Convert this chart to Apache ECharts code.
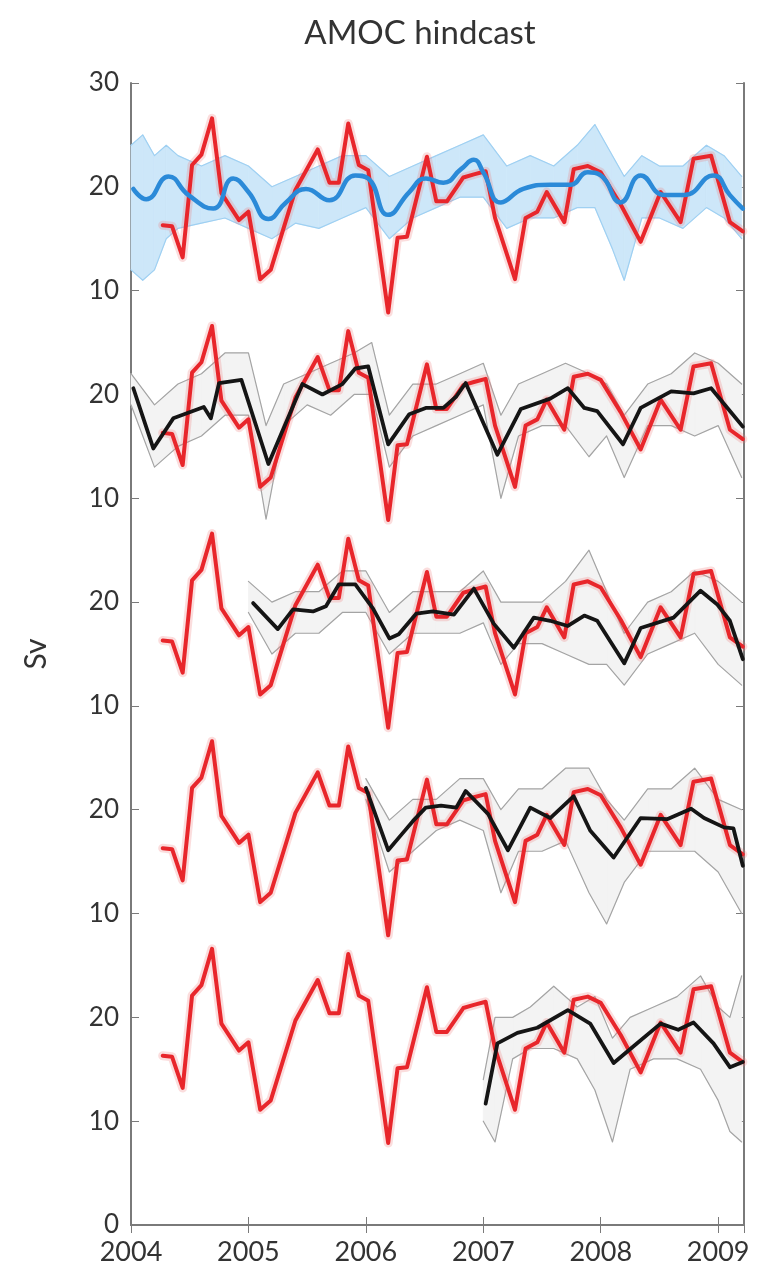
<!DOCTYPE html>
<html>
<head>
<meta charset="utf-8">
<title>AMOC hindcast</title>
<script src="https://cdn.jsdelivr.net/npm/echarts@6/dist/echarts.min.js"></script>
<style>
    html, body { margin: 0; padding: 0; background: #fff; }
    #chart { width: 757px; height: 1278px; }
</style>
</head>
<body>
<div id="chart"></div>
<script>
    // panel offsets (Sv), top panel first
    var offsets = [80, 60, 40, 20, 0];
    var yTickLabels = ['0', '10', '20', '10', '20', '10', '20', '10', '20', '10', '20', '30'];
    var yearLabels = [2004, 2005, 2006, 2007, 2008, 2009];

    // observed (red), vertices in decimal years
    var obsTime = [2004.27, 2004.35, 2004.44, 2004.52, 2004.60, 2004.69, 2004.77, 2004.92, 2005.00, 2005.10,
        2005.19, 2005.40, 2005.59, 2005.69, 2005.77, 2005.85, 2005.94, 2006.02, 2006.19, 2006.27,
        2006.35, 2006.52, 2006.60, 2006.69, 2006.83, 2006.92, 2007.02, 2007.10, 2007.27, 2007.36,
        2007.46, 2007.54, 2007.69, 2007.77, 2007.89, 2008.00, 2008.17, 2008.34, 2008.51, 2008.68,
        2008.79, 2008.94, 2009.02, 2009.10, 2009.21];
    var obsValue = [16.3, 16.2, 13.2, 22.1, 23.1, 26.6, 19.4, 16.8, 17.6, 11.1,
        12.0, 19.7, 23.6, 20.4, 20.4, 26.1, 22.1, 21.6, 7.9, 15.1,
        15.2, 22.9, 18.6, 18.6, 20.9, 21.2, 21.5, 17.0, 11.1, 17.0,
        17.6, 19.5, 16.6, 21.7, 22.0, 21.4, 18.3, 14.7, 19.5, 16.6,
        22.7, 23.0, 19.8, 16.6, 15.7];

    // model run (blue, top panel)
    var modelTime = [2004.02, 2004.13, 2004.32, 2004.49, 2004.70, 2004.87, 2005.00, 2005.17, 2005.32, 2005.49,
        2005.69, 2005.91, 2006.02, 2006.19, 2006.37, 2006.51, 2006.66, 2006.81, 2006.92, 2007.00,
        2007.15, 2007.34, 2007.57, 2007.74, 2007.89, 2008.00, 2008.17, 2008.34, 2008.54, 2008.71,
        2008.96, 2009.10, 2009.21];
    var modelValue = [19.8, 18.8, 21.0, 19.2, 17.9, 20.8, 19.5, 16.9, 18.5, 19.8,
        18.7, 21.1, 20.8, 17.3, 19.5, 20.8, 20.4, 21.7, 22.6, 21.4,
        18.5, 19.8, 20.2, 20.2, 21.4, 21.1, 18.5, 21.1, 19.2, 19.2,
        21.1, 19.2, 17.9];
    var modelSpreadTime = [2004.0, 2004.1, 2004.2, 2004.3, 2004.4, 2004.6, 2004.8, 2005.0, 2005.2, 2005.4,
        2005.6, 2005.8, 2006.0, 2006.2, 2006.4, 2006.6, 2006.8, 2007.0, 2007.2, 2007.4,
        2007.6, 2007.8, 2007.95, 2008.1, 2008.2, 2008.35, 2008.5, 2008.7, 2008.9, 2009.05, 2009.2];
    var modelSpreadHi = [24, 25, 23, 24, 23, 22, 23, 22, 20, 21,
        22, 23, 23, 21, 22, 23, 24, 25, 22, 23,
        22, 24, 26, 23, 21, 23, 22, 22, 24, 23, 21];
    var modelSpreadLo = [12, 11, 12, 15, 16, 16.5, 17, 16, 15, 16.5,
        16, 17, 18, 15, 17, 18, 19, 19, 16, 17,
        17, 18, 18, 14, 11, 17, 17, 16, 18, 17, 15];

    // hindcasts started 2004, 2005, 2006, 2007 (black = ensemble mean)
    var hc2004Time = [2004.02, 2004.19, 2004.36, 2004.62, 2004.68, 2004.75, 2004.94, 2005.17, 2005.46, 2005.63,
        2005.80, 2005.91, 2006.02, 2006.19, 2006.37, 2006.51, 2006.66, 2006.77, 2006.85, 2007.12,
        2007.32, 2007.57, 2007.72, 2007.86, 2007.97, 2008.19, 2008.34, 2008.60, 2008.79, 2008.94,
        2009.10, 2009.21];
    var hc2004Value = [20.6, 14.8, 17.7, 18.8, 17.7, 21.1, 21.4, 13.3, 21.0, 20.0,
        21.0, 22.5, 22.7, 15.2, 18.1, 18.7, 18.7, 19.8, 21.1, 14.2,
        18.6, 19.6, 20.6, 18.7, 18.4, 15.2, 18.7, 20.3, 20.1, 20.6,
        18.4, 16.9];
    var hc2005Time = [2005.04, 2005.25, 2005.38, 2005.55, 2005.66, 2005.77, 2005.91, 2006.06, 2006.20, 2006.28,
        2006.43, 2006.57, 2006.75, 2006.92, 2007.09, 2007.26, 2007.43, 2007.57, 2007.72, 2007.86,
        2007.97, 2008.20, 2008.34, 2008.62, 2008.85, 2008.99, 2009.10, 2009.21];
    var hc2005Value = [19.9, 17.4, 19.3, 19.1, 19.6, 21.7, 21.7, 19.4, 16.5, 16.9,
        18.9, 19.1, 18.8, 21.3, 17.9, 15.6, 18.5, 18.2, 17.7, 18.7,
        18.2, 14.1, 17.5, 18.5, 21.1, 19.8, 18.2, 14.5];
    var hc2006Time = [2006.00, 2006.19, 2006.31, 2006.40, 2006.51, 2006.64, 2006.77, 2006.85, 2007.04, 2007.21,
        2007.40, 2007.57, 2007.77, 2007.91, 2008.11, 2008.34, 2008.57, 2008.77, 2008.88, 2009.05,
        2009.13, 2009.21];
    var hc2006Value = [22.1, 16.1, 17.7, 18.9, 20.2, 20.4, 20.2, 21.8, 19.6, 16.1,
        20.2, 19.2, 21.3, 18.0, 15.4, 19.2, 19.1, 20.1, 19.2, 18.3,
        18.2, 14.6];
    var hc2007Time = [2007.02, 2007.12, 2007.29, 2007.46, 2007.72, 2007.91, 2008.11, 2008.31, 2008.51, 2008.66,
        2008.79, 2008.96, 2009.10, 2009.21];
    var hc2007Value = [11.7, 17.5, 18.5, 19.0, 20.7, 19.4, 15.6, 17.5, 19.4, 18.8,
        19.5, 17.5, 15.2, 15.7];

    // ensemble spread of the hindcasts (grey)
    var sp2004Time = [2004.0, 2004.2, 2004.4, 2004.6, 2004.8, 2005.0, 2005.15, 2005.3, 2005.5, 2005.7,
        2005.9, 2006.05, 2006.2, 2006.4, 2006.6, 2006.8, 2007.0, 2007.15, 2007.3, 2007.5,
        2007.7, 2007.9, 2008.05, 2008.2, 2008.4, 2008.6, 2008.8, 2009.0, 2009.2];
    var sp2004Hi = [22, 19, 21, 22, 24, 24, 17, 21, 22, 23, 24, 25, 18, 21, 21, 22, 23, 18, 21, 22, 23, 22, 21, 18, 21, 22, 24, 23, 21];
    var sp2004Lo = [19, 13, 15, 16, 18, 18, 8, 17, 19, 18, 20, 20, 13, 16, 17, 18, 19, 10, 16, 17, 17, 14, 16, 12, 17, 17, 16, 17, 12];
    var sp2005Time = [2005.0, 2005.2, 2005.4, 2005.6, 2005.8, 2006.0, 2006.2, 2006.4, 2006.6, 2006.8,
        2007.0, 2007.15, 2007.3, 2007.5, 2007.7, 2007.9, 2008.05, 2008.2, 2008.4, 2008.6,
        2008.8, 2009.0, 2009.2];
    var sp2005Hi = [22, 20, 21, 21, 23, 23, 19, 21, 21, 21, 23, 20, 20, 20, 22, 25, 21, 17, 20, 21, 23, 22, 20];
    var sp2005Lo = [19, 15, 17, 17, 19, 19, 15, 17, 17, 17, 18, 14, 16, 16, 15, 14, 14, 12, 15, 16, 17, 14, 12];
    var sp2006Time = [2006.0, 2006.2, 2006.4, 2006.6, 2006.8, 2007.0, 2007.15, 2007.3, 2007.5, 2007.7,
        2007.9, 2008.05, 2008.2, 2008.4, 2008.6, 2008.8, 2009.0, 2009.2];
    var sp2006Hi = [23, 19, 21, 21, 23, 23, 20, 22, 22, 24, 24, 21, 19, 22, 22, 24, 21, 20];
    var sp2006Lo = [21, 14, 16, 18, 19, 18, 12, 16, 16, 17, 12, 9, 13, 16, 16, 16, 14, 10];
    var sp2007Time = [2007.0, 2007.1, 2007.25, 2007.4, 2007.6, 2007.8, 2007.95, 2008.1, 2008.25, 2008.45,
        2008.65, 2008.85, 2009.0, 2009.1, 2009.2];
    var sp2007Hi = [14, 20, 20, 21, 23, 21, 22, 18, 20, 21, 22, 24, 21, 20, 24];
    var sp2007Lo = [10, 8, 16, 17, 17, 16, 13, 8, 15, 16, 16, 15, 12, 9, 8];

    var RED = '#e8262b';
    var BLUE = '#2b8ad8';
    var BLACK = '#151515';

    function pts(times, values, off) {
        return times.map(function (t, i) { return [t, values[i] + off]; });
    }

    // band between lo and hi, one quad per segment, positioned by api.coord
    function band(name, times, hi, lo, off, fill) {
        var segs = [];
        for (var i = 0; i < times.length - 1; i++) {
            segs.push([times[i], hi[i] + off, lo[i] + off, times[i + 1], hi[i + 1] + off, lo[i + 1] + off]);
        }
        return {
            name: name,
            type: 'custom',
            silent: true,
            z: 1,
            renderItem: function (params, api) {
                var a = api.coord([api.value(0), api.value(1)]);
                var b = api.coord([api.value(3), api.value(4)]);
                var c = api.coord([api.value(3), api.value(5)]);
                var d = api.coord([api.value(0), api.value(2)]);
                return {
                    type: 'polygon',
                    shape: { points: [a, b, c, d] },
                    style: { fill: fill, stroke: fill, lineWidth: 0.8 }
                };
            },
            encode: { x: [0, 3], y: [1, 2, 4, 5] },
            data: segs
        };
    }

    function line(name, times, values, off, color, width, smooth, z) {
        return {
            name: name,
            type: 'line',
            symbol: 'none',
            smooth: smooth,
            silent: true,
            lineStyle: { color: color, width: width, join: 'round', cap: 'round' },
            data: pts(times, values, off),
            z: z
        };
    }

    var series = [];
    series.push(band('modelSpread', modelSpreadTime, modelSpreadHi, modelSpreadLo, offsets[0], '#cde7f9'));
    series.push(line('modelHi', modelSpreadTime, modelSpreadHi, offsets[0], '#9fd0f2', 1.2, false, 2));
    series.push(line('modelLo', modelSpreadTime, modelSpreadLo, offsets[0], '#9fd0f2', 1.2, false, 2));

    var spreads = [
        [sp2004Time, sp2004Hi, sp2004Lo, offsets[1]],
        [sp2005Time, sp2005Hi, sp2005Lo, offsets[2]],
        [sp2006Time, sp2006Hi, sp2006Lo, offsets[3]],
        [sp2007Time, sp2007Hi, sp2007Lo, offsets[4]]
    ];
    spreads.forEach(function (s, k) {
        series.push(band('sp' + k, s[0], s[1], s[2], s[3], '#f3f3f3'));
        series.push(line('spHi' + k, s[0], s[1], s[3], '#a4a4a4', 1.2, false, 2));
        series.push(line('spLo' + k, s[0], s[2], s[3], '#a4a4a4', 1.2, false, 2));
    });

    offsets.forEach(function (off, k) {
        series.push(line('obsGlow' + k, obsTime, obsValue, off, 'rgba(240,120,120,0.25)', 9, false, 3));
        series.push(line('obs' + k, obsTime, obsValue, off, RED, 4, false, 3));
    });
    series.push(line('model', modelTime, modelValue, offsets[0], BLUE, 4.5, true, 4));
    series.push(line('hc2004', hc2004Time, hc2004Value, offsets[1], BLACK, 3.8, false, 4));
    series.push(line('hc2005', hc2005Time, hc2005Value, offsets[2], BLACK, 3.8, false, 4));
    series.push(line('hc2006', hc2006Time, hc2006Value, offsets[3], BLACK, 3.8, false, 4));
    series.push(line('hc2007', hc2007Time, hc2007Value, offsets[4], BLACK, 3.8, false, 4));

    var axisColor = '#7a7a7a';
    var fontFamily = 'Lato, "Open Sans", sans-serif';

    var chart = echarts.init(document.getElementById('chart'));
    chart.setOption({
        animation: false,
        backgroundColor: '#fff',
        title: {
            text: 'AMOC hindcast',
            left: 415,
            top: 12,
            textAlign: 'center',
            textStyle: { fontFamily: fontFamily, fontWeight: 'normal', fontSize: 33, color: '#333' }
        },
        grid: { left: 131, right: 13, top: 83, bottom: 53 },
        xAxis: [{
            type: 'value',
            min: 2004,
            max: 2009.22,
            interval: 1,
            position: 'bottom',
            splitLine: { show: false },
            axisLine: { lineStyle: { color: axisColor, width: 2 } },
            axisTick: { inside: true, length: 8, lineStyle: { color: axisColor } },
            axisLabel: {
                margin: 14,
                fontFamily: fontFamily,
                fontSize: 27,
                color: '#333',
                formatter: function (v) { return yearLabels.indexOf(v) >= 0 ? String(v) : ''; }
            }
        }, {
            type: 'value',
            min: 2004,
            max: 2009.22,
            interval: 1,
            position: 'top',
            splitLine: { show: false },
            axisLine: { lineStyle: { color: axisColor, width: 2 } },
            axisTick: { inside: true, length: 8, lineStyle: { color: axisColor } },
            axisLabel: { show: false }
        }],
        yAxis: [{
            type: 'value',
            min: 0,
            max: 110,
            interval: 10,
            position: 'left',
            name: 'Sv',
            nameLocation: 'middle',
            nameRotate: 90,
            nameGap: 80,
            nameTextStyle: { fontFamily: fontFamily, fontSize: 30, color: '#333' },
            splitLine: { show: false },
            axisLine: { lineStyle: { color: axisColor, width: 2 } },
            axisTick: { inside: true, length: 8, lineStyle: { color: axisColor } },
            axisLabel: {
                margin: 12,
                fontFamily: fontFamily,
                fontSize: 26,
                color: '#333',
                formatter: function (v) { return yTickLabels[Math.round(v / 10)]; }
            }
        }, {
            type: 'value',
            min: 0,
            max: 110,
            interval: 10,
            position: 'right',
            splitLine: { show: false },
            axisLine: { lineStyle: { color: axisColor, width: 2 } },
            axisTick: { inside: true, length: 8, lineStyle: { color: axisColor } },
            axisLabel: { show: false }
        }],
        series: series
    });
</script>
</body>
</html>
